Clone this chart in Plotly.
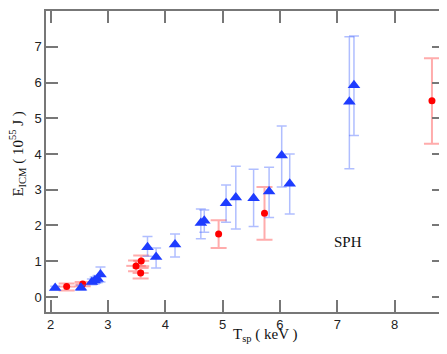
import plotly.graph_objects as go

# blue triangles (with y error bars)
tri_x = [2.08, 2.53, 2.72, 2.77, 2.82, 2.87, 3.69, 3.84, 4.17, 4.62, 4.68,
         5.06, 5.23, 5.54, 5.81, 6.03, 6.17, 7.21, 7.29]
tri_y = [0.25, 0.26, 0.42, 0.46, 0.50, 0.63, 1.39, 1.12, 1.47, 2.07, 2.13,
         2.62, 2.78, 2.76, 2.95, 3.96, 3.17, 5.46, 5.92]
tri_up = [0.05, 0.07, 0.08, 0.10, 0.10, 0.21, 0.30, 0.25, 0.29, 0.39, 0.30,
          0.51, 0.88, 0.81, 0.68, 0.82, 0.83, 1.82, 1.38]
tri_dn = [0.05, 0.07, 0.08, 0.10, 0.10, 0.21, 0.25, 0.31, 0.35, 0.44, 0.32,
          0.53, 0.88, 0.79, 0.73, 0.88, 0.85, 1.87, 1.40]

# red circles (y and some x error bars)
dot_x = [2.28, 2.56, 3.49, 3.57, 3.58, 4.93, 5.73, 8.65]
dot_y = [0.29, 0.36, 0.87, 0.67, 1.01, 1.76, 2.34, 5.49]
dot_up = [0.09, 0.06, 0.15, 0.14, 0.15, 0.39, 0.74, 1.19]
dot_dn = [0.11, 0.06, 0.15, 0.15, 0.15, 0.39, 0.74, 1.20]
dot_xerr = [0.15, 0.13, 0.17, 0.14, 0.14, 0, 0, 0]

fig = go.Figure()

fig.add_trace(go.Scatter(
    x=dot_x, y=dot_y, mode='markers',
    marker=dict(symbol='circle', size=7, color='#ff0000'),
    error_y=dict(type='data', symmetric=False, array=dot_up, arrayminus=dot_dn,
                 color='rgba(255,90,90,0.5)', thickness=2, width=8),
    error_x=dict(type='data', array=dot_xerr,
                 color='rgba(255,90,90,0.5)', thickness=2, width=0),
    showlegend=False))

fig.add_trace(go.Scatter(
    x=tri_x, y=tri_y, mode='markers',
    marker=dict(symbol='triangle-up', size=11, color='#1e3cff'),
    error_y=dict(type='data', symmetric=False, array=tri_up, arrayminus=tri_dn,
                 color='rgba(80,110,255,0.45)', thickness=1.5, width=5),
    showlegend=False))

axis_style = dict(showline=True, linecolor='#777', linewidth=1.5, mirror='ticks',
                  ticks='inside', ticklen=12, tickcolor='#777', tickwidth=1.5,
                  showgrid=False, zeroline=False,
                  tickfont=dict(family='Liberation Sans, Arial', size=13, color='#222'))

fig.update_xaxes(range=[1.92, 8.86], dtick=1, **axis_style)
fig.update_yaxes(range=[-0.42, 8.0], tickvals=[0, 1, 2, 3, 4, 5, 6, 7], **axis_style)

serif = dict(family='Liberation Serif, Times New Roman', size=15, color='#111')
fig.add_annotation(text='T<sub>sp</sub> ( keV )', xref='paper', yref='paper',
                   x=0.55, y=-0.076, xanchor='center', yanchor='middle',
                   showarrow=False, font=serif)
fig.add_annotation(text='E<sub>ICM</sub> ( 10<sup>55</sup> J )', xref='paper', yref='paper',
                   x=-0.073, y=0.526, xanchor='center', yanchor='middle', textangle=-90,
                   showarrow=False, font=serif)
fig.add_annotation(text='SPH', x=7.18, y=1.53, showarrow=False, font=serif)

# page body adds an 8px offset, so the figure is a bit smaller than the window
fig.update_layout(width=439, height=346, plot_bgcolor='white', paper_bgcolor='white',
                  margin=dict(l=38, r=3, t=1, b=42))

fig.write_html("out.html")
